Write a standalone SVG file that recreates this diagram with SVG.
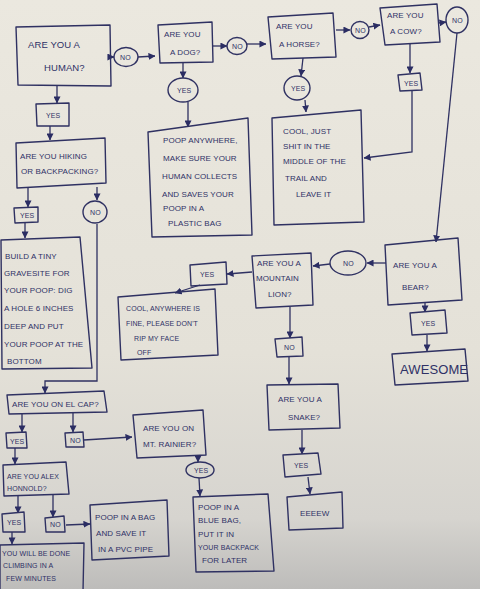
<svg xmlns="http://www.w3.org/2000/svg" width="480" height="589" viewBox="0 0 480 589">
<defs>
<linearGradient id="paper" x1="0" y1="0" x2="0" y2="1">
<stop offset="0" stop-color="#ebe8df"/>
<stop offset="0.6" stop-color="#e4e1d8"/>
<stop offset="0.88" stop-color="#d6d4cf"/>
<stop offset="1" stop-color="#bdbcba"/>
</linearGradient>
<marker id="ah" viewBox="0 0 8 8" refX="7.5" refY="4" markerWidth="7" markerHeight="7" markerUnits="userSpaceOnUse" orient="auto">
<path d="M0,0 L8,4 L0,8 z" fill="#2b2d63"/>
</marker>
<style>
.b{fill:none;stroke:#2f3162;stroke-width:1.4;stroke-linejoin:round}
.c{fill:none;stroke:#2f3162;stroke-width:1.3;marker-end:url(#ah)}
.t{font-family:"Liberation Sans","DejaVu Sans",sans-serif;font-size:8px;fill:#2f3166;letter-spacing:0.1px}
.s{font-size:7px}
.m{font-size:9.5px}
.l{font-size:13px}
</style>
</defs>
<rect width="480" height="589" fill="url(#paper)"/>

<g id="connectors">
<path class="c" d="M110,57 L114,57"/>
<path class="c" d="M138,57 L155,56"/>
<path class="c" d="M213,46 L227,46"/>
<path class="c" d="M247,44 L266,44"/>
<path class="c" d="M336,30 L350,30"/>
<path class="c" d="M369,27 L380,25"/>
<path class="c" d="M439,23 L446,22"/>
<path class="c" d="M457,33 L436,242"/>
<path class="c" d="M410,44 L410,73"/>
<path class="c" d="M412,91 L412,152 L364,158"/>
<path class="c" d="M303,58 L301,76"/>
<path class="c" d="M305,100 L306,112"/>
<path class="c" d="M183,62 L183,78"/>
<path class="c" d="M188,102 L188,127"/>
<path class="c" d="M57,85 L57,103"/>
<path class="c" d="M50,126 L50,140"/>
<path class="c" d="M28,187 L28,207"/>
<path class="c" d="M97,187 L97,200"/>
<path class="c" d="M25,223 L25,238"/>
<path class="c" d="M97,224 L97,381 L45,381 L45,393"/>
<path class="c" d="M22,413 L22,432"/>
<path class="c" d="M73,413 L73,432"/>
<path class="c" d="M84,440 L132,437"/>
<path class="c" d="M15,448 L15,464"/>
<path class="c" d="M18,495 L18,513"/>
<path class="c" d="M53,495 L53,517"/>
<path class="c" d="M66,525 L90,524"/>
<path class="c" d="M12,532 L12,544"/>
<path class="c" d="M198,457 L198,462"/>
<path class="c" d="M199,478 L200,496"/>
<path class="c" d="M386,263 L367,263"/>
<path class="c" d="M425,302 L425,312"/>
<path class="c" d="M427,335 L427,351"/>
<path class="c" d="M330,264 L313,266"/>
<path class="c" d="M252,272 L227,274"/>
<path class="c" d="M200,285 L175,293"/>
<path class="c" d="M290,307 L290,338"/>
<path class="c" d="M289,357 L289,384"/>
<path class="c" d="M302,430 L302,454"/>
<path class="c" d="M308,477 L310,494"/>
</g>

<g id="human"><polygon class="b" points="16,27 110,25 111,86 18,85"/>
<text class="t m" x="28" y="48">ARE YOU A</text><text class="t m" x="44" y="71">HUMAN?</text></g>
<g id="no1"><ellipse class="b" cx="126" cy="57" rx="12" ry="9.5"/><text class="t s" x="120" y="60">NO</text></g>
<g id="dog"><polygon class="b" points="158,25 212,22 213,62 160,63"/>
<text class="t" x="164" y="37">ARE YOU</text><text class="t" x="170" y="55">A DOG?</text></g>
<g id="no2"><ellipse class="b" cx="237" cy="46" rx="10" ry="8.5"/><text class="t s" x="232" y="49">NO</text></g>
<g id="horse"><polygon class="b" points="268,17 333,13 336,57 272,59"/>
<text class="t" x="276" y="29">ARE YOU</text><text class="t" x="279" y="47">A HORSE?</text></g>
<g id="no3"><ellipse class="b" cx="360" cy="30" rx="9" ry="8.5"/><text class="t s" x="355" y="33">NO</text></g>
<g id="cow"><polygon class="b" points="380,8 437,4 440,42 385,45"/>
<text class="t" x="387" y="18">ARE YOU</text><text class="t" x="390" y="34">A COW?</text></g>
<g id="no4"><ellipse class="b" cx="457" cy="20" rx="11" ry="13"/><text class="t s" x="452" y="23">NO</text></g>
<g id="cowyes"><polygon class="b" points="398,75 420,73 422,90 400,91"/><text class="t s" x="404" y="86">YES</text></g>
<g id="horseyes"><ellipse class="b" cx="297" cy="88" rx="13" ry="12"/><text class="t s" x="291" y="91">YES</text></g>
<g id="horseresult"><polygon class="b" points="272,118 361,110 364,222 274,225"/>
<text class="t" x="283" y="134">COOL, JUST</text><text class="t" x="283" y="149">SHIT IN THE</text><text class="t" x="283" y="164">MIDDLE OF THE</text><text class="t" x="285" y="181">TRAIL AND</text><text class="t" x="296" y="197">LEAVE IT</text></g>
<g id="dogyes"><ellipse class="b" cx="183" cy="90" rx="15" ry="12"/><text class="t s" x="177" y="93">YES</text></g>
<g id="dogresult"><polygon class="b" points="148,132 248,118 252,235 152,237"/>
<text class="t" x="163" y="143">POOP ANYWHERE,</text><text class="t" x="163" y="161">MAKE SURE YOUR</text><text class="t" x="162" y="179">HUMAN COLLECTS</text><text class="t" x="162" y="197">AND SAVES YOUR</text><text class="t" x="163" y="211">POOP IN A</text><text class="t" x="168" y="226">PLASTIC BAG</text></g>
<g id="humanyes"><polygon class="b" points="36,104 69,103 69,126 37,126"/><text class="t s" x="46" y="118">YES</text></g>
<g id="hiking"><polygon class="b" points="16,143 105,138 106,183 17,188"/>
<text class="t" x="20" y="159">ARE YOU HIKING</text><text class="t" x="21" y="174">OR BACKPACKING?</text></g>
<g id="hikingyes"><polygon class="b" points="14,208 38,207 38,222 15,223"/><text class="t s" x="20" y="218">YES</text></g>
<g id="hikingno"><ellipse class="b" cx="95" cy="212" rx="12" ry="11"/><text class="t s" x="90" y="215">NO</text></g>
<g id="gravesite"><polygon class="b" points="1,240 80,237 92,368 2,369"/>
<text class="t" x="5" y="259">BUILD A TINY</text><text class="t" x="4" y="276">GRAVESITE FOR</text><text class="t" x="4" y="293">YOUR POOP: DIG</text><text class="t" x="4" y="311">A HOLE 6 INCHES</text><text class="t" x="4" y="329">DEEP AND PUT</text><text class="t" x="4" y="347">YOUR POOP AT THE</text><text class="t" x="7" y="364">BOTTOM</text></g>
<g id="elcap"><polygon class="b" points="7,395 104,391 107,412 9,414"/>
<text class="t" x="12" y="407">ARE YOU ON EL CAP?</text></g>
<g id="elcapyes"><polygon class="b" points="6,433 26,432 27,448 7,448"/><text class="t s" x="10" y="444">YES</text></g>
<g id="elcapno"><polygon class="b" points="65,433 83,432 84,447 66,447"/><text class="t s" x="70" y="443">NO</text></g>
<g id="rainier"><polygon class="b" points="133,415 203,410 206,455 137,458"/>
<text class="t" x="143" y="431">ARE YOU ON</text><text class="t" x="143" y="447">MT. RAINIER?</text></g>
<g id="rainieryes"><ellipse class="b" cx="200" cy="470" rx="14" ry="8"/><text class="t s" x="194" y="473">YES</text></g>
<g id="bluebag"><polygon class="b" points="193,497 268,494 274,571 196,572"/>
<text class="t" x="198" y="510">POOP IN A</text><text class="t" x="198" y="523">BLUE BAG,</text><text class="t" x="198" y="537">PUT IT IN</text><text class="t s" x="198" y="550">YOUR BACKPACK</text><text class="t" x="202" y="563">FOR LATER</text></g>
<g id="alex"><polygon class="b" points="3,465 66,462 69,494 4,496"/>
<text class="t s" x="7" y="479">ARE YOU ALEX</text><text class="t s" x="7" y="491">HONNOLD?</text></g>
<g id="alexyes"><polygon class="b" points="2,514 24,512 25,532 3,532"/><text class="t s" x="7" y="525">YES</text></g>
<g id="alexno"><polygon class="b" points="45,518 64,516 65,532 46,532"/><text class="t s" x="50" y="527">NO</text></g>
<g id="pvc"><polygon class="b" points="90,505 167,500 169,556 92,560"/>
<text class="t" x="95" y="520">POOP IN A BAG</text><text class="t" x="96" y="536">AND SAVE IT</text><text class="t" x="98" y="552">IN A PVC PIPE</text></g>
<g id="climbing"><polygon class="b" points="0,545 84,543 83,592 0,592"/>
<text class="t s" x="2" y="556">YOU WILL BE DONE</text><text class="t s" x="3" y="568">CLIMBING IN A</text><text class="t s" x="6" y="581">FEW MINUTES</text></g>
<g id="bear"><polygon class="b" points="385,245 458,238 462,300 388,305"/>
<text class="t" x="393" y="268">ARE YOU A</text><text class="t" x="402" y="290">BEAR?</text></g>
<g id="bearno"><ellipse class="b" cx="348" cy="263" rx="18" ry="12"/><text class="t s" x="343" y="266">NO</text></g>
<g id="bearyes"><polygon class="b" points="410,313 445,310 447,333 412,335"/><text class="t s" x="421" y="326">YES</text></g>
<g id="awesome"><polygon class="b" points="392,354 465,349 468,381 395,385"/>
<text class="t l" x="400" y="374">AWESOME</text></g>
<g id="mountainlion"><polygon class="b" points="252,256 311,253 313,305 256,308"/>
<text class="t" x="257" y="266">ARE YOU A</text><text class="t" x="256" y="281">MOUNTAIN</text><text class="t" x="268" y="297">LION?</text></g>
<g id="mlyes"><polygon class="b" points="190,265 226,262 227,284 191,286"/><text class="t s" x="200" y="277">YES</text></g>
<g id="mlresult"><polygon class="b" points="118,297 215,289 218,355 121,360"/>
<text class="t s" x="126" y="311">COOL, ANYWHERE IS</text><text class="t s" x="126" y="326">FINE, PLEASE DON'T</text><text class="t s" x="134" y="341">RIP MY FACE</text><text class="t s" x="137" y="355">OFF</text></g>
<g id="mlno"><polygon class="b" points="275,339 302,337 303,356 277,357"/><text class="t s" x="284" y="350">NO</text></g>
<g id="snake"><polygon class="b" points="267,385 338,384 340,428 269,430"/>
<text class="t" x="278" y="402">ARE YOU A</text><text class="t" x="288" y="420">SNAKE?</text></g>
<g id="snakeyes"><polygon class="b" points="283,455 318,453 321,474 285,477"/><text class="t s" x="294" y="468">YES</text></g>
<g id="eeeew"><polygon class="b" points="287,497 342,492 343,528 289,530"/>
<text class="t" x="300" y="516">EEEEW</text></g>
</svg>
